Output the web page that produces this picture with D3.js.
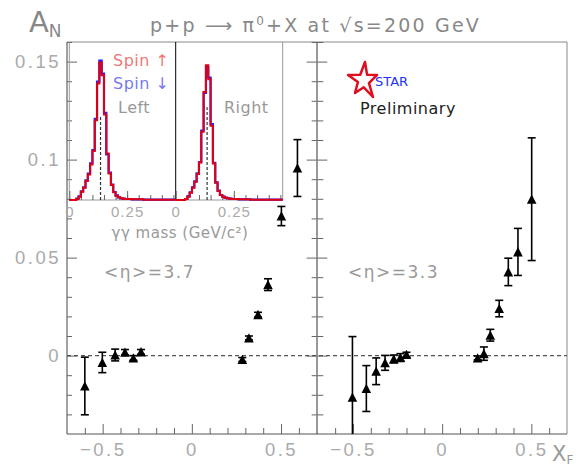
<!DOCTYPE html>
<html>
<head>
<meta charset="utf-8">
<style>
  body { margin: 0; background: #fff; }
  svg { display: block; font-family: "DejaVu Sans", sans-serif; }
</style>
</head>
<body>
<svg id="chart" width="583" height="468"></svg>
<script src="https://d3js.org/d3.v7.min.js"></script>
<script>
// A_N vs x_F, <eta>=3.7 (left panel)
var leftXF  = [-0.6, -0.502, -0.43, -0.375, -0.328, -0.285, 0.283, 0.32, 0.371, 0.427, 0.502, 0.592];
var leftAN  = [-0.0155, -0.0035, 0.0003, 0.0017, -0.0012, 0.0019, -0.002, 0.009, 0.0209, 0.0362, 0.0712, 0.0957];
var leftErr = [0.0147, 0.0052, 0.003, 0.0014, 0.0012, 0.0012, 0.001, 0.001, 0.0012, 0.003, 0.0049, 0.0145];

// A_N vs x_F, <eta>=3.3 (right panel)
var rightXF  = [-0.503, -0.425, -0.37, -0.32, -0.271, -0.234, -0.2, 0.199, 0.234, 0.27, 0.32, 0.371, 0.425, 0.502];
var rightAN  = [-0.0213, -0.0168, -0.008, -0.0037, -0.0017, -0.001, 0.0005, -0.0012, 0.001, 0.0104, 0.024, 0.0427, 0.0529, 0.0798];
var rightErr = [0.031, 0.0117, 0.0068, 0.0038, 0.002, 0.002, 0.0012, 0.001, 0.0034, 0.003, 0.0042, 0.007, 0.012, 0.0313];

// gamma-gamma mass histograms in the inset (bin lower edges, GeV)
var massBins = [0, 0.01, 0.02, 0.03, 0.04, 0.05, 0.06, 0.07, 0.08, 0.09, 0.1, 0.11, 0.12, 0.13, 0.14, 0.15,
  0.16, 0.17, 0.18, 0.19, 0.2, 0.21, 0.22, 0.23, 0.24, 0.25, 0.26, 0.27, 0.28, 0.29, 0.3, 0.31,
  0.32, 0.33, 0.34, 0.35, 0.36, 0.37, 0.38, 0.39, 0.4, 0.41, 0.42, 0.43, 0.44, 0.45];
var binWidth = 0.01;
var leftSpinUp   = [0,0,0,3,10,25,37,57,77,107,147,240,350,413,375,257,140,80,45,23,13,8,5,4,3,3,3,2,2,2,2,2,1,1,1,1,1,1,1,1,1,1,1,1,1,1];
var leftSpinDown = [0,0,0,4,11,26,38,59,79,110,150,244,356,419,380,262,137,82,46,24,14,8,5,4,3,3,3,2,2,2,2,2,1,1,1,1,1,1,1,1,1,1,1,1,1,1];
var rightSpinUp   = [0,0,0,0,3,10,22,37,55,78,113,205,325,405,363,223,110,52,27,15,10,7,5,4,3,3,3,2,2,2,2,2,1,1,1,1,1,1,1,1,1,1,1,1,1,1];
var rightSpinDown = [0,0,0,0,3,11,23,38,56,80,114,209,322,400,368,228,112,53,28,15,10,7,5,4,3,3,3,2,2,2,2,2,1,1,1,1,1,1,1,1,1,1,1,1,1,1];
var pi0Mass = 0.135;
var pi0MarkLevel = [255, 279];

var xTicks = [-0.5, 0, 0.5];
var xTickLabels = ["\u22120.5", "0", "0.5"];
var yTicks = [0, 0.05, 0.1, 0.15];
var yTickLabels = ["0", "0.05", "0.1", "0.15"];
var massTicks = [0, 0.25];
var massTickLabels = ["0", "0.25"];

var svg = d3.select("#chart");

var plotTop = 42, plotBottom = 434;
var y = d3.scaleLinear().domain([-0.04, 0.16]).range([plotBottom, plotTop]);
var xL = d3.scaleLinear().domain([-0.7, 0.7]).range([67, 316.7]);
var xR = d3.scaleLinear().domain([-0.7, 0.7]).range([317.3, 567]);

// frames
svg.append("line").attr("x1", 67).attr("x2", 567).attr("y1", plotTop).attr("y2", plotTop).attr("stroke", "#888");
svg.append("line").attr("x1", 567).attr("x2", 567).attr("y1", plotTop).attr("y2", plotBottom).attr("stroke", "#888");
svg.append("line").attr("x1", 67).attr("x2", 567).attr("y1", plotBottom).attr("y2", plotBottom).attr("stroke", "#555");
svg.append("line").attr("x1", 67).attr("x2", 67).attr("y1", plotTop).attr("y2", plotBottom).attr("stroke", "#444");
svg.append("line").attr("x1", 317).attr("x2", 317).attr("y1", plotTop).attr("y2", plotBottom).attr("stroke", "#333");

function styleAxis(g) {
  g.select(".domain").remove();
  g.selectAll(".tick line").attr("stroke", "#666");
  g.selectAll(".tick text").attr("fill", "#aaa").style("font-size", "18.5px").style("letter-spacing", "2.5px");
}

var yMinor = d3.range(-0.03, 0.1601, 0.01).filter(function (v) { return Math.abs(v * 20 - Math.round(v * 20)) > 1e-6; });
var xMinor = d3.range(-0.6, 0.61, 0.1).filter(function (v) { return Math.abs(v * 2 - Math.round(v * 2)) > 1e-6; });

// left panel y axis with labels
svg.append("g").attr("transform", "translate(67,0)")
  .call(d3.axisLeft(y).tickValues(yMinor).tickSize(-5).tickFormat("")).call(styleAxis);
svg.append("g").attr("transform", "translate(67,0)")
  .call(d3.axisLeft(y).tickValues(yTicks).tickSize(-10).tickPadding(6)
    .tickFormat(function (d, i) { return yTickLabels[i]; })).call(styleAxis);
// inner ticks at the panel border
svg.append("g").attr("transform", "translate(316.7,0)")
  .call(d3.axisRight(y).tickValues(yMinor).tickSize(-5).tickFormat("")).call(styleAxis);
svg.append("g").attr("transform", "translate(316.7,0)")
  .call(d3.axisRight(y).tickValues(yTicks).tickSize(-10).tickFormat("")).call(styleAxis);
svg.append("g").attr("transform", "translate(317.3,0)")
  .call(d3.axisLeft(y).tickValues(yMinor).tickSize(-6).tickFormat("")).call(styleAxis);
svg.append("g").attr("transform", "translate(317.3,0)")
  .call(d3.axisLeft(y).tickValues(yTicks).tickSize(-10).tickFormat("")).call(styleAxis);

[xL, xR].forEach(function (x) {
  svg.append("g").attr("transform", "translate(0," + plotBottom + ")")
    .call(d3.axisBottom(x).tickValues(xMinor).tickSize(-6).tickFormat("")).call(styleAxis);
  svg.append("g").attr("transform", "translate(0," + plotBottom + ")")
    .call(d3.axisBottom(x).tickValues(xTicks).tickSize(-10).tickPadding(9)
      .tickFormat(function (d, i) { return xTickLabels[i]; })).call(styleAxis);
});

// zero line
svg.append("line").attr("x1", 67).attr("x2", 567).attr("y1", y(0)).attr("y2", y(0))
  .attr("stroke", "#555").attr("stroke-width", 1.2).attr("stroke-dasharray", "4,3");

// data
svg.append("clipPath").attr("id", "clipL").append("rect")
  .attr("x", 67).attr("y", plotTop).attr("width", 250).attr("height", plotBottom - plotTop);
svg.append("clipPath").attr("id", "clipR").append("rect")
  .attr("x", 317).attr("y", plotTop).attr("width", 250).attr("height", plotBottom - plotTop);

function drawPoints(xs, as, es, x, clip) {
  var data = xs.map(function (v, i) { return { xf: v, an: as[i], err: es[i] }; });
  var g = svg.append("g").attr("clip-path", "url(#" + clip + ")");
  var pt = g.selectAll("g.pt").data(data).enter().append("g").attr("class", "pt");
  pt.append("line")
    .attr("x1", function (d) { return x(d.xf); }).attr("x2", function (d) { return x(d.xf); })
    .attr("y1", function (d) { return y(d.an + d.err); }).attr("y2", function (d) { return y(d.an - d.err); })
    .attr("stroke", "#000").attr("stroke-width", 1.6);
  [1, -1].forEach(function (s) {
    pt.append("line")
      .attr("x1", function (d) { return x(d.xf) - 4; }).attr("x2", function (d) { return x(d.xf) + 4; })
      .attr("y1", function (d) { return y(d.an + s * d.err); }).attr("y2", function (d) { return y(d.an + s * d.err); })
      .attr("stroke", "#000").attr("stroke-width", 1.6);
  });
  pt.append("path")
    .attr("d", function (d) {
      var cx = x(d.xf), cy = y(d.an);
      return "M" + (cx - 4.8) + "," + (cy + 4.5) + "L" + cx + "," + (cy - 4.8) + "L" + (cx + 4.8) + "," + (cy + 4.5) + "Z";
    })
    .attr("fill", "#000");
}
drawPoints(leftXF, leftAN, leftErr, xL, "clipL");
drawPoints(rightXF, rightAN, rightErr, xR, "clipR");

// inset with gamma-gamma mass histograms
var insetL = 69.3, insetM = 175.7, insetR = 282.7, insetB = 200;
var hy = d3.scaleLinear().domain([0, 475]).range([insetB, plotTop]);
var mL = d3.scaleLinear().domain([0, 0.46]).range([insetL, insetM]);
var mR = d3.scaleLinear().domain([0, 0.46]).range([insetM, insetR]);

svg.append("line").attr("x1", insetL).attr("x2", insetL).attr("y1", plotTop).attr("y2", insetB).attr("stroke", "#999");
svg.append("line").attr("x1", insetR).attr("x2", insetR).attr("y1", plotTop).attr("y2", insetB).attr("stroke", "#999");
svg.append("line").attr("x1", insetM).attr("x2", insetM).attr("y1", plotTop).attr("y2", insetB).attr("stroke", "#000");
svg.append("line").attr("x1", insetL).attr("x2", insetR).attr("y1", insetB).attr("y2", insetB).attr("stroke", "#999");

var massMinor = d3.range(0.05, 0.46, 0.05);
[mL, mR].forEach(function (m) {
  svg.append("g").attr("transform", "translate(0," + insetB + ")")
    .call(d3.axisBottom(m).tickValues(massMinor).tickSize(-5).tickFormat("")).call(styleAxis);
  var ax = svg.append("g").attr("transform", "translate(0," + insetB + ")")
    .call(d3.axisBottom(m).tickValues(massTicks).tickSize(-9).tickPadding(6)
      .tickFormat(function (d, i) { return massTickLabels[i]; })).call(styleAxis);
  ax.selectAll(".tick text").style("font-size", "15px").style("letter-spacing", "1px");
});

function histPath(counts, m) {
  var pts = [[m(massBins[0]), hy(0)]];
  counts.forEach(function (c, i) {
    pts.push([m(massBins[i]), hy(c)]);
    pts.push([m(massBins[i] + binWidth), hy(c)]);
  });
  return d3.line()(pts);
}
[[leftSpinDown, leftSpinUp, mL, 0], [rightSpinDown, rightSpinUp, mR, 1]].forEach(function (h) {
  svg.append("path").attr("d", histPath(h[0], h[2])).attr("fill", "none")
    .attr("stroke", "#2020ff").attr("stroke-width", 2.2);
  svg.append("path").attr("d", histPath(h[1], h[2])).attr("fill", "none")
    .attr("stroke", "#e00010").attr("stroke-width", 2);
  svg.append("line").attr("x1", h[2](pi0Mass)).attr("x2", h[2](pi0Mass))
    .attr("y1", hy(0)).attr("y2", hy(pi0MarkLevel[h[3]]))
    .attr("stroke", "#333").attr("stroke-width", 1.2).attr("stroke-dasharray", "3,2");
});

svg.append("text").attr("x", 113).attr("y", 66).attr("fill", "#f07878").style("font-size", "16px").style("letter-spacing", "0.5px").text("Spin \u2191");
svg.append("text").attr("x", 113).attr("y", 89).attr("fill", "#7878f0").style("font-size", "16px").style("letter-spacing", "0.5px").text("Spin \u2193");
svg.append("text").attr("x", 118).attr("y", 113).attr("fill", "#999").style("font-size", "16px").style("letter-spacing", "0.5px").text("Left");
svg.append("text").attr("x", 224).attr("y", 113).attr("fill", "#999").style("font-size", "16px").style("letter-spacing", "0.5px").text("Right");
svg.append("text").attr("x", 180).attr("y", 238).attr("text-anchor", "middle").attr("fill", "#999")
  .style("font-size", "15px").style("letter-spacing", "0.5px").text("\u03b3\u03b3 mass (GeV/c\u00b2)");

// labels
svg.append("text").attr("x", 104).attr("y", 278).attr("fill", "#999").style("font-size", "17px")
  .style("letter-spacing", "1.5px").text("<\u03b7>=3.7");
svg.append("text").attr("x", 348).attr("y", 278).attr("fill", "#999").style("font-size", "17px")
  .style("letter-spacing", "1.5px").text("<\u03b7>=3.3");

var an = svg.append("text").attr("x", 29).attr("y", 32).attr("fill", "#888");
an.append("tspan").style("font-size", "29px").text("A");
an.append("tspan").attr("dy", 5).style("font-size", "17px").text("N");

var xf = svg.append("text").attr("x", 552).attr("y", 461).attr("fill", "#999");
xf.append("tspan").style("font-size", "21px").text("X");
xf.append("tspan").attr("dy", 3).style("font-size", "12px").text("F");

var title = svg.append("text").attr("x", 150).attr("y", 32).attr("fill", "#888").style("font-size", "19px")
  .style("letter-spacing", "2.2px");
title.append("tspan").text("p+p \u27f6 \u03c0");
title.append("tspan").attr("dy", -7).style("font-size", "12px").text("0");
title.append("tspan").attr("dy", 7).text("+X at \u221as=200 GeV");

// STAR preliminary logo
var starOuter = [[365, 62], [377, 75], [373, 97], [355, 93], [348, 75]];
var sc = [d3.mean(starOuter, function (p) { return p[0]; }), d3.mean(starOuter, function (p) { return p[1]; })];
var starPts = [];
starOuter.forEach(function (p, i) {
  var q = starOuter[(i + 1) % 5];
  starPts.push(p);
  starPts.push([sc[0] + 0.472 * ((p[0] + q[0]) / 2 - sc[0]), sc[1] + 0.472 * ((p[1] + q[1]) / 2 - sc[1])]);
});
svg.append("path").attr("d", d3.line()(starPts) + "Z").attr("fill", "none")
  .attr("stroke", "#dd1020").attr("stroke-width", 2.5).attr("stroke-linejoin", "round");
svg.append("text").attr("x", 375).attr("y", 86).attr("fill", "#2030ff").style("font-size", "13px").text("STAR");
svg.append("text").attr("x", 360).attr("y", 114).attr("fill", "#222").style("font-size", "16px")
  .style("letter-spacing", "0.5px").text("Preliminary");
</script>
</body>
</html>
